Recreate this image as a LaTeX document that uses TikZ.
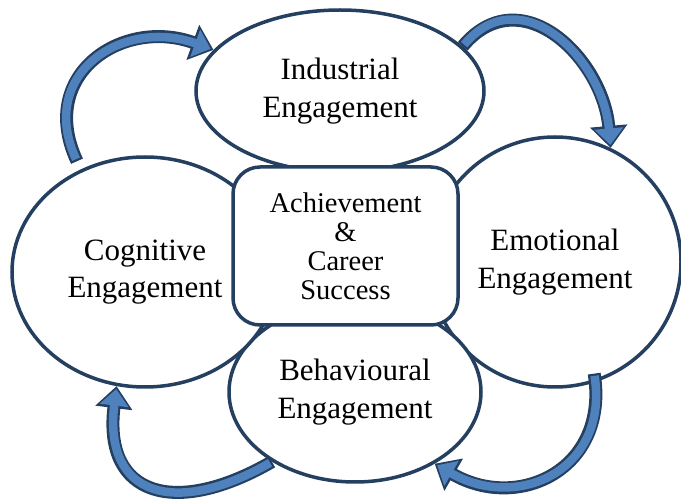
\documentclass[tikz,border=0pt]{standalone}
\usepackage{fontspec}
\setmainfont{Liberation Serif}
\usetikzlibrary{shapes.geometric, arrows.meta}
\definecolor{rim}{HTML}{243F60}
\definecolor{arrowfill}{HTML}{4F81BD}
\tikzset{
    engage/.style = {ellipse, draw=rim, fill=white, line width=3.5pt, align=center, inner sep=0pt, font=\fontsize{31}{37.5}\selectfont},
    core/.style = {draw=rim, fill=white, line width=3.5pt, rounded corners=27pt, align=center, minimum width=225pt, minimum height=158pt, font=\fontsize{28.5}{29}\selectfont},
    bandout/.style = {draw=rim, line width=13pt, -{Triangle[length=22pt, width=36pt]}},
    bandin/.style = {draw=arrowfill, line width=8.5pt, shorten <=2.2pt, shorten >=3pt, -{Triangle[length=16.5pt, width=28pt]}}
}

\begin{document}
\begin{tikzpicture}[x=1pt, y=1pt]
    \useasboundingbox (0,0) rectangle (681,504);
    \node[engage, minimum width=288pt, minimum height=162pt] (ind) at (340,413) {Industrial\\Engagement};
    \node[engage, minimum width=252pt, minimum height=250pt] (emo) at (555,242) {Emotional\\Engagement};
    \node[engage, minimum width=252pt, minimum height=180pt] (beh) at (355,112) {Behavioural\\Engagement};
    \node[engage, minimum width=266pt, minimum height=230pt] (cog) at (145,232) {Cognitive\\Engagement};
    \node[core] (core) at (345.5,258) {Achievement\\\&\\Career\\Success};
    % arrows
    \foreach \band in {bandout, bandin}{
        \draw[\band] ([yshift=10pt]cog.124) to[out=115, in=160, looseness=1.4]  (ind.162);
        \draw[\band] (ind.20)               to[out=50, in=95, looseness=1.28]   (emo.64);
        \draw[\band] ([yshift=9pt]emo.-72)  to[out=-81, in=-30, looseness=1.35] (beh.-42);
        \draw[\band] (beh.220)              to[out=210, in=-97, looseness=1.65] (cog.256);
    }
\end{tikzpicture}
\end{document}
